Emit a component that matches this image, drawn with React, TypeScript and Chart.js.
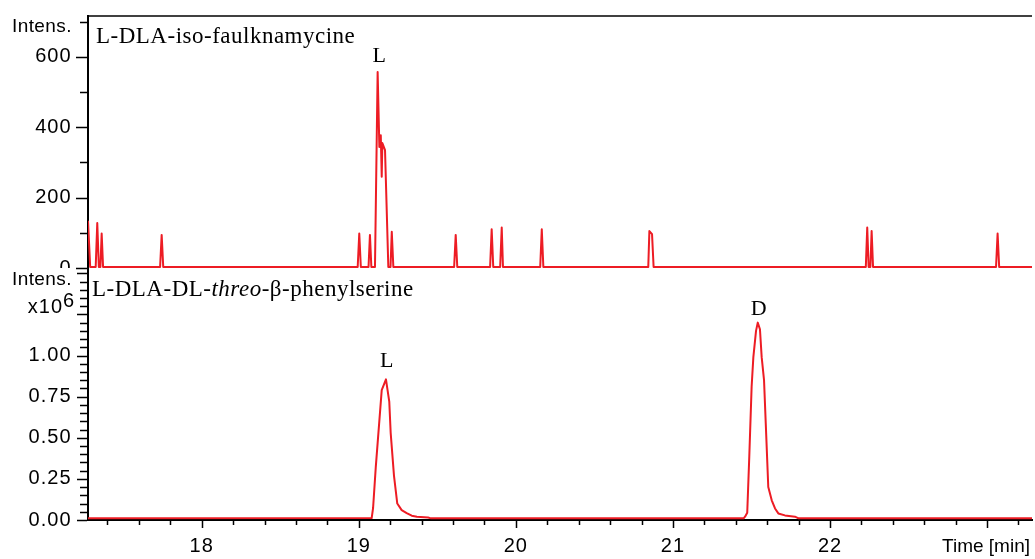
import React, { useEffect, useRef } from 'react';
import { Chart, registerables } from 'chart.js';

Chart.register(...registerables);

// ---------- data ----------
const timeMin = 17.276;
const timeMax = 23.286;

// top trace: L-DLA-iso-faulknamycine (intensity, counts)
const topTime = [
  17.276, 17.29, 17.325, 17.335, 17.345, 17.355, 17.363, 17.372, 17.735, 17.745, 17.755,
  18.993, 19.003, 19.013, 19.062, 19.071, 19.08, 19.103, 19.12, 19.131, 19.14, 19.146,
  19.15, 19.167, 19.188, 19.202, 19.21, 19.22, 19.607, 19.617, 19.627, 19.836, 19.846,
  19.856, 19.9, 19.91, 19.918, 20.155, 20.165, 20.175, 20.843, 20.85, 20.867, 20.877,
  22.228, 22.237, 22.246, 22.257, 22.265, 22.274, 23.057, 23.067, 23.077, 23.286,
];
const topIntensity = [
  134, 3, 3, 128, 3, 3, 98, 3, 3, 94, 3,
  3, 98, 3, 3, 94, 3, 3, 557, 344, 377, 259,
  355, 335, 3, 3, 103, 3, 3, 94, 3, 3, 110,
  3, 3, 115, 3, 3, 110, 3, 3, 105, 96, 3,
  3, 115, 3, 3, 105, 3, 3, 98, 3, 3,
];

// bottom trace: L-DLA-DL-threo-β-phenylserine (intensity x10^6)
const bottomTime = [
  17.276, 19.082, 19.091, 19.108, 19.146, 19.173, 19.194, 19.203, 19.224, 19.245, 19.273,
  19.305, 19.337, 19.37, 19.441, 19.46, 21.45, 21.459, 21.473, 21.486, 21.501, 21.512,
  21.529, 21.54, 21.554, 21.565, 21.58, 21.591, 21.607, 21.629, 21.65, 21.671, 21.713,
  21.777, 21.8, 23.286,
];
const bottomIntensity = [
  0.01, 0.012, 0.073, 0.32, 0.79, 0.855, 0.72, 0.53, 0.27, 0.1, 0.06,
  0.042, 0.026, 0.02, 0.015, 0.01, 0.01, 0.02, 0.044, 0.384, 0.81, 0.99,
  1.15, 1.2, 1.16, 0.99, 0.85, 0.586, 0.2, 0.12, 0.07, 0.04, 0.028,
  0.02, 0.01, 0.01,
];

// tick labels
const topYTicks = [0, 200, 400, 600];
const bottomYTicks = [0, 0.25, 0.5, 0.75, 1.0];
const xTicks = [18, 19, 20, 21, 22];

// peak annotations
const topPeakNames = ['L'];
const topPeakTime = [19.13];
const topPeakValue = [586];
const bottomPeakNames = ['L', 'D'];
const bottomPeakTime = [19.178, 21.546];
const bottomPeakValue = [0.932, 1.246];

const topTitle = 'L-DLA-iso-faulknamycine';
const bottomTitleParts = [
  { text: 'L-DLA-DL-', italic: false },
  { text: 'threo', italic: true },
  { text: '-β-phenylserine', italic: false },
];

// ---------- styles ----------
const RED = 'rgb(237,28,36)';
const SANS = '"Liberation Sans", Arial, sans-serif';
const SERIF = '"Liberation Serif", "Times New Roman", serif';

function setSpacing(ctx: any, v: string) {
  try { ctx.letterSpacing = v; } catch (e) { /* ignore */ }
}

const spacingPlugin = {
  id: 'spacing',
  beforeDraw(chart: any) {
    setSpacing(chart.ctx, '1px');
  },
};

function drawYTicks(ctx: any, scale: any, left: number, count: number, step: number, majorEvery: number, majLen: number, minLen: number) {
  ctx.beginPath();
  for (let i = 0; i <= count; i++) {
    const v = i * step;
    const y = Math.round(scale.getPixelForValue(v)) + 0.5;
    const len = i % majorEvery === 0 ? majLen : minLen;
    ctx.moveTo(left - len, y);
    ctx.lineTo(left, y);
  }
  ctx.stroke();
}

const topPlugin = {
  id: 'topDecor',
  afterDraw(chart: any) {
    const ctx = chart.ctx;
    const { left, right, top } = chart.chartArea;
    const xs = chart.scales.x;
    const ys = chart.scales.y;
    ctx.save();
    setSpacing(ctx, '0px');
    ctx.strokeStyle = '#000';
    ctx.lineWidth = 1.5;
    ctx.beginPath();
    ctx.moveTo(left - 1, top);
    ctx.lineTo(right, top);
    ctx.stroke();
    drawYTicks(ctx, ys, left - 1, 7, 100, 2, 11, 7);

    ctx.fillStyle = '#000';
    ctx.textBaseline = 'alphabetic';
    ctx.textAlign = 'left';
    ctx.font = `19px ${SANS}`;
    setSpacing(ctx, '0.4px');
    ctx.fillText('Intens.', 12, 32);

    ctx.font = `23px ${SERIF}`;
    setSpacing(ctx, '0.5px');
    ctx.fillText(topTitle, 96, 43);

    ctx.font = `22px ${SERIF}`;
    ctx.textAlign = 'center';
    setSpacing(ctx, '0px');
    topPeakNames.forEach((n, i) => {
      ctx.fillText(n, xs.getPixelForValue(topPeakTime[i]), ys.getPixelForValue(topPeakValue[i]));
    });
    ctx.restore();
  },
};

const bottomPlugin = {
  id: 'bottomDecor',
  afterDraw(chart: any) {
    const ctx = chart.ctx;
    const { left, top, bottom } = chart.chartArea;
    const xs = chart.scales.x;
    const ys = chart.scales.y;
    ctx.save();
    setSpacing(ctx, '0px');
    ctx.fillStyle = '#fff';
    ctx.fillRect(0, 0, 76, 20);

    ctx.strokeStyle = '#000';
    ctx.lineWidth = 2;
    ctx.beginPath();
    ctx.moveTo(left, 0);
    ctx.lineTo(left, top + 1);
    ctx.stroke();

    ctx.lineWidth = 1.5;
    drawYTicks(ctx, ys, left - 1, 30, 0.05, 5, 10, 7);

    ctx.beginPath();
    for (let i = 0; i < 40; i++) {
      const v = 17.4 + i * 0.2;
      if (v > timeMax) break;
      const x = Math.round(xs.getPixelForValue(v)) + 0.5;
      const major = Math.abs(v - Math.round(v)) < 1e-6;
      ctx.moveTo(x, bottom);
      ctx.lineTo(x, bottom + (major ? 8 : 5));
    }
    ctx.stroke();

    ctx.fillStyle = '#000';
    ctx.textBaseline = 'alphabetic';
    ctx.font = `19px ${SANS}`;
    ctx.textAlign = 'left';
    setSpacing(ctx, '0.4px');
    ctx.fillText('Intens.', 12, 17);
    ctx.font = `20px ${SANS}`;
    setSpacing(ctx, '1px');
    ctx.textAlign = 'right';
    ctx.fillText('x10', 63, 45);
    ctx.textAlign = 'left';
    ctx.fillText('6', 63, 39);
    ctx.font = `19px ${SANS}`;
    setSpacing(ctx, '0px');
    ctx.textAlign = 'right';
    ctx.fillText('Time [min]', 1030, 284);

    setSpacing(ctx, '0.5px');
    ctx.textAlign = 'left';
    let x = 92;
    bottomTitleParts.forEach((p) => {
      ctx.font = `${p.italic ? 'italic ' : ''}23px ${SERIF}`;
      ctx.fillText(p.text, x, 28);
      x += ctx.measureText(p.text).width;
    });

    ctx.font = `22px ${SERIF}`;
    setSpacing(ctx, '0px');
    ctx.textAlign = 'center';
    bottomPeakNames.forEach((n, i) => {
      ctx.fillText(n, xs.getPixelForValue(bottomPeakTime[i]), ys.getPixelForValue(bottomPeakValue[i]));
    });
    ctx.restore();
  },
};

export default function App() {
  const topRef = useRef<HTMLCanvasElement>(null);
  const botRef = useRef<HTMLCanvasElement>(null);

  useEffect(() => {
    if (!topRef.current || !botRef.current) return;
    const tickFont = { family: SANS, size: 20 };
    const fitY = (s: any) => { s.width = 88; s.paddingTop = 0; s.paddingBottom = 0; };
    const fitX = (s: any) => { s.height = 39; s.paddingLeft = 0; s.paddingRight = 0; };

    const top = new Chart(topRef.current, {
      type: 'line',
      data: {
        datasets: [
          {
            data: topTime.map((t, i) => ({ x: t, y: topIntensity[i] })),
            borderColor: RED,
            borderWidth: 2,
            pointRadius: 0,
            tension: 0,
            fill: false,
            borderJoinStyle: 'round',
          },
        ],
      },
      options: {
        animation: false,
        responsive: false,
        devicePixelRatio: 1,
        events: [],
        layout: { padding: { left: 0, right: 3, top: 16, bottom: 4 } },
        plugins: { legend: { display: false }, tooltip: { enabled: false } },
        scales: {
          x: { type: 'linear', min: timeMin, max: timeMax, display: false },
          y: {
            type: 'linear',
            min: 0,
            max: 716,
            afterFit: fitY,
            afterBuildTicks: (s: any) => { s.ticks = topYTicks.map((v) => ({ value: v })); },
            grid: { display: false, drawTicks: false },
            border: { display: true, color: '#000', width: 2 },
            ticks: { padding: 16.5, color: '#000', font: tickFont, autoSkip: false, callback: (v: any) => String(v) },
          },
        },
      } as any,
      plugins: [spacingPlugin, topPlugin],
    });

    const bottom = new Chart(botRef.current, {
      type: 'line',
      data: {
        datasets: [
          {
            data: bottomTime.map((t, i) => ({ x: t, y: bottomIntensity[i] })),
            borderColor: RED,
            borderWidth: 2,
            pointRadius: 0,
            tension: 0,
            fill: false,
            borderJoinStyle: 'round',
          },
        ],
      },
      options: {
        animation: false,
        responsive: false,
        devicePixelRatio: 1,
        events: [],
        layout: { padding: { left: 0, right: 3, top: 2, bottom: 0 } },
        plugins: { legend: { display: false }, tooltip: { enabled: false } },
        scales: {
          x: {
            type: 'linear',
            min: timeMin,
            max: timeMax,
            afterFit: fitX,
            afterBuildTicks: (s: any) => { s.ticks = xTicks.map((v) => ({ value: v })); },
            grid: { display: false, drawTicks: false },
            border: { display: true, color: '#000', width: 2 },
            ticks: { padding: 14, color: '#000', font: tickFont, autoSkip: false, maxRotation: 0, callback: (v: any) => String(v) },
          },
          y: {
            type: 'linear',
            min: 0,
            max: 1.52,
            afterFit: fitY,
            afterBuildTicks: (s: any) => { s.ticks = bottomYTicks.map((v) => ({ value: v })); },
            grid: { display: false, drawTicks: false },
            border: { display: true, color: '#000', width: 2 },
            ticks: { padding: 16.5, color: '#000', font: tickFont, autoSkip: false, callback: (v: any) => Number(v).toFixed(2) },
          },
        },
      } as any,
      plugins: [spacingPlugin, bottomPlugin],
    });

    return () => {
      top.destroy();
      bottom.destroy();
    };
  }, []);

  return (
    <div style={{ position: 'fixed', left: 0, top: 0, width: 1035, height: 559, background: '#fff', overflow: 'hidden' }}>
      <canvas ref={topRef} width={1035} height={272} style={{ position: 'absolute', left: 0, top: 0, width: 1035, height: 272 }} />
      <canvas ref={botRef} width={1035} height={291} style={{ position: 'absolute', left: 0, top: 268, width: 1035, height: 291 }} />
    </div>
  );
}
